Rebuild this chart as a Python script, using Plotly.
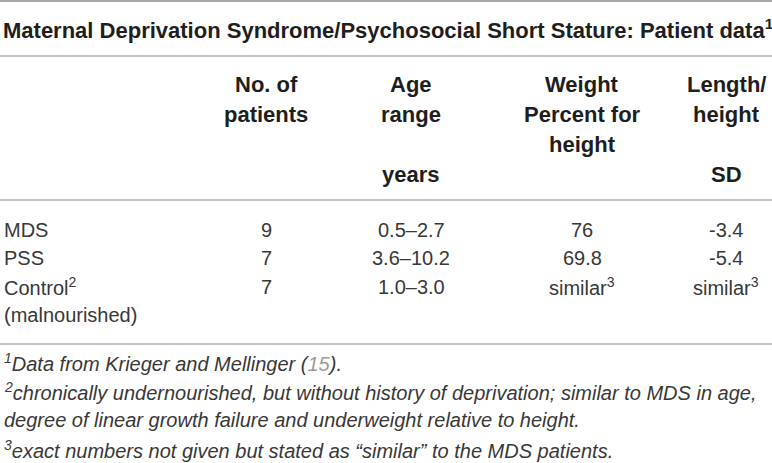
import plotly.graph_objects as go

# table content
title = "Maternal Deprivation Syndrome/Psychosocial Short Stature: Patient data<sup>1</sup>"

col_headers = [
    ["No. of", "patients", "", ""],
    ["Age", "range", "", "years"],
    ["Weight", "Percent for", "height", ""],
    ["Length/", "height", "", "SD"],
]

groups = ["MDS", "PSS", "Control<sup>2</sup>"]
group_sub = ["", "", "(malnourished)"]
n_patients = [9, 7, 7]
age_range = ["0.5–2.7", "3.6–10.2", "1.0–3.0"]
weight_pct = [76, 69.8, None]
length_sd = [-3.4, -5.4, None]

footnotes = [
    "<sup>1</sup>Data from Krieger and Mellinger (<span style='color:#9a9a9a'>15</span>).",
    "<sup>2</sup>chronically undernourished, but without history of deprivation; similar to MDS in age,",
    "degree of linear growth failure and underweight relative to height.",
    "<sup>3</sup>exact numbers not given but stated as “similar” to the MDS patients.",
]

# layout (pixels, y grows downward)
W, H = 772, 463
left_x = 2
col_x = [266, 411, 582, 726]
header_y0, header_dy = 84, 30.3
row_y0, row_dy = 229.5, 28.6
foot_y0, foot_dy = 362, 29
rule_y = [56, 200, 344]

family = "Liberation Sans, Arial, sans-serif"
bold_font = dict(family=family, size=22, color="#1e1e1e", weight="bold")
body_font = dict(family=family, size=20, color="#383838")
foot_font = dict(family=family, size=20, color="#383838", style="italic")


def fmt(v):
    return "similar<sup>3</sup>" if v is None else str(v)


fig = go.Figure()
ann = []

ann.append(dict(x=0.5, y=28.5, text=title, xanchor="left", yanchor="middle", font=bold_font))

for c, lines in enumerate(col_headers):
    for i, t in enumerate(lines):
        if t:
            ann.append(dict(x=col_x[c], y=header_y0 + i * header_dy, text=t,
                            xanchor="center", yanchor="middle", font=bold_font))

table_cols = [n_patients, age_range, [fmt(v) for v in weight_pct], [fmt(v) for v in length_sd]]
for r, g in enumerate(groups):
    y = row_y0 + r * row_dy
    ann.append(dict(x=left_x, y=y, text=g, xanchor="left", yanchor="middle", font=body_font))
    if group_sub[r]:
        ann.append(dict(x=left_x, y=y + row_dy, text=group_sub[r], xanchor="left",
                        yanchor="middle", font=body_font))
    for c, col in enumerate(table_cols):
        ann.append(dict(x=col_x[c], y=y, text=str(col[r]), xanchor="center",
                        yanchor="middle", font=body_font))

for i, t in enumerate(footnotes):
    ann.append(dict(x=left_x, y=foot_y0 + i * foot_dy, text=t, xanchor="left",
                    yanchor="middle", font=foot_font))

for a in ann:
    a.update(xref="x", yref="y", showarrow=False)

shapes = [dict(type="line", xref="x", yref="y", x0=0, x1=W, y0=1, y1=1,
               line=dict(color="#a8a8a8", width=2))]
for y in rule_y:
    shapes.append(dict(type="line", xref="x", yref="y", x0=0, x1=W, y0=y, y1=y,
                       line=dict(color="#b0b0b0", width=1.5)))

fig.update_layout(
    width=W, height=H,
    margin=dict(l=0, r=0, t=0, b=0),
    paper_bgcolor="white", plot_bgcolor="white",
    xaxis=dict(range=[0, W], visible=False, fixedrange=True),
    yaxis=dict(range=[H, 0], visible=False, fixedrange=True),
    annotations=ann, shapes=shapes,
    showlegend=False,
)

# the page's default body margin would shift the table by 8px
fig.write_html("out.html", config={"displayModeBar": False},
               post_script="document.body.style.margin='0';")
